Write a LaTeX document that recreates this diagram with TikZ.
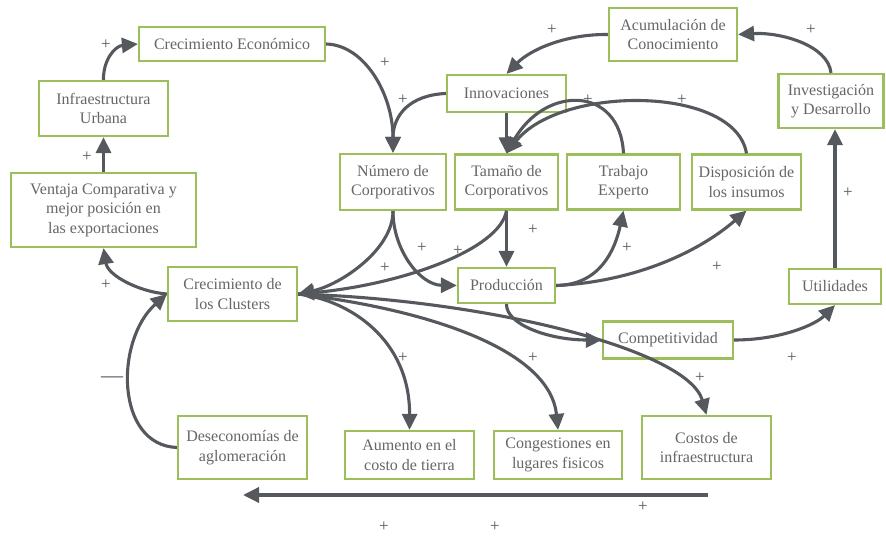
\documentclass[tikz,border=0pt]{standalone}
\usepackage{fontspec}
\setmainfont{Liberation Serif}
\usetikzlibrary{arrows.meta}
\definecolor{boxgreen}{HTML}{9CBF5B}
\definecolor{txtgray}{HTML}{666666}
\definecolor{arrgray}{HTML}{55595D}
\begin{document}
\begin{tikzpicture}[x=1pt,y=-1pt,
  box/.style={draw=boxgreen, line width=2.2pt, fill=white, text=txtgray, align=center, inner sep=0pt, font=\fontsize{16}{19.5}\selectfont},
  conn/.style={draw=arrgray, line width=3.1pt, -{Triangle[length=16pt,width=15pt]}},
  sign/.style={text=arrgray, font=\fontsize{17}{17}\selectfont, inner sep=0pt}]
\fill[white] (0,0) rectangle (886,537);
\useasboundingbox (0,0) rectangle (886,537);
% nodes
\node[box, minimum width=186pt, minimum height=34pt] (ce) at (232,44) {Crecimiento Económico};
\node[box, minimum width=129pt, minimum height=55pt] (iu) at (103.5,108.5) {Infraestructura\\Urbana};
\node[box, minimum width=185pt, minimum height=74pt] (vc) at (103.5,210) {Ventaja Comparativa y\\mejor posición en\\las exportaciones};
\node[box, minimum width=129pt, minimum height=54pt] (cc) at (232.5,294) {Crecimiento de\\los Clusters};
\node[box, minimum width=129pt, minimum height=63pt] (de) at (242.5,447.5) {Deseconomías de\\aglomeración};
\node[box, minimum width=129pt, minimum height=48pt] (ac) at (409.5,455) {Aumento en el\\costo de tierra};
\node[box, minimum width=128pt, minimum height=48pt] (cg) at (558,455) {Congestiones en\\lugares fisicos};
\node[box, minimum width=129pt, minimum height=63pt] (ci) at (706.5,447.5) {Costos de\\infraestructura};
\node[box, minimum width=106pt, minimum height=56pt] (nc) at (393,182) {Número de\\Corporativos};
\node[box, minimum width=103pt, minimum height=55pt] (tc) at (506.5,182) {Tamaño de\\Corporativos};
\node[box, minimum width=113pt, minimum height=55pt] (te) at (623.5,182) {Trabajo\\Experto};
\node[box, minimum width=109pt, minimum height=55pt] (di) at (746.5,182) {Disposición de\\los insumos};
\node[box, minimum width=119pt, minimum height=37pt] (in) at (506.5,93.5) {Innovaciones};
\node[box, minimum width=128pt, minimum height=53pt] (ak) at (673,34.5) {Acumulación de\\Conocimiento};
\node[box, minimum width=105pt, minimum height=54pt] (id) at (831,101) {Investigación\\y Desarrollo};
\node[box, minimum width=97pt, minimum height=35pt] (pr) at (506.5,285.5) {Producción};
\node[box, minimum width=130pt, minimum height=37pt] (co) at (668,340) {Competitividad};
\node[box, minimum width=92pt, minimum height=35pt] (ut) at (835,286.5) {Utilidades};
\coordinate (bs) at (708,495);
\coordinate (be) at (243,495);
% connectors
\draw[conn] (iu.north) .. controls (103,60) and (115,46) .. (ce.west);
\draw[conn] (vc.north) -- (iu.south);
\draw[conn] (cc.west) .. controls (140,292) and (108,276) .. (vc.south);
\draw[conn] (de.west) .. controls (115,445) and (115,340) .. (cc.west);
\draw[conn] (ce.east) .. controls (365,45) and (393,95) .. (nc.north);
\draw[conn] (in.west) .. controls (410,95) and (393,115) .. (nc.north);
\draw[conn] (ak.west) .. controls (565,34) and (530,50) .. (in.north);
\draw[conn] (id.north) .. controls (828,45) and (780,32) .. (ak.east);
\draw[conn] (in.south) -- (tc.north);
\draw[conn] (te.north) .. controls (620,85) and (545,85) .. (tc.north);
\draw[conn] (di.north) .. controls (735,85) and (560,85) .. (tc.north);
\draw[conn] (tc.south) -- (pr.north);
\draw[conn] (nc.south) .. controls (393,250) and (340,285) .. (cc.east);
\draw[conn] (nc.south) .. controls (393,250) and (420,285) .. (pr.west);
\draw[conn] (tc.south) .. controls (500,250) and (400,285) .. (cc.east);
\draw[conn] (pr.east) .. controls (600,285) and (615,250) .. (te.south);
\draw[conn] (pr.east) .. controls (630,282) and (695,255) .. (di.south);
\draw[conn] (pr.south) .. controls (506,325) and (550,340) .. (co.west);
\draw[conn] (cc.east) .. controls (350,300) and (410,340) .. (ac.north);
\draw[conn] (cc.east) .. controls (430,310) and (550,350) .. (cg.north);
\draw[conn] (cc.east) .. controls (490,300) and (688,350) .. (ci.north);
\draw[conn] (co.east) .. controls (780,340) and (815,325) .. (ut.south);
\draw[conn] (ut.north) -- (ut.north |- id.south);
\draw[conn, line width=3.5pt] (bs) -- (be);
% signs
\node[sign] (s1) at (106,45) {+};
\node[sign] (s2) at (87,157) {+};
\node[sign] (s3) at (385,63) {+};
\node[sign] (s4) at (403,100) {+};
\node[sign] (s5) at (552,30) {+};
\node[sign] (s6) at (811,30) {+};
\node[sign] (s7) at (588,100) {+};
\node[sign] (s8) at (682,100) {+};
\node[sign] (s9) at (533,230) {+};
\node[sign] (s10) at (627,248) {+};
\node[sign] (s11) at (458,251) {+};
\node[sign] (s12) at (422,248) {+};
\node[sign] (s13) at (385,268) {+};
\node[sign] (s14) at (106,285) {+};
\node[sign] (s15) at (403,358) {+};
\node[sign] (s16) at (533,358) {+};
\node[sign] (s17) at (700,378) {+};
\node[sign] (s18) at (792,358) {+};
\node[sign] (s19) at (717,267) {+};
\node[sign] (s20) at (848,193) {+};
\node[sign] (s21) at (643,507) {+};
\node[sign] (s22) at (384,527) {+};
\node[sign] (s23) at (495,527) {+};
\node[sign, font=\fontsize{22}{22}\selectfont] (m1) at (112,380) {—};
\end{tikzpicture}
\end{document}
